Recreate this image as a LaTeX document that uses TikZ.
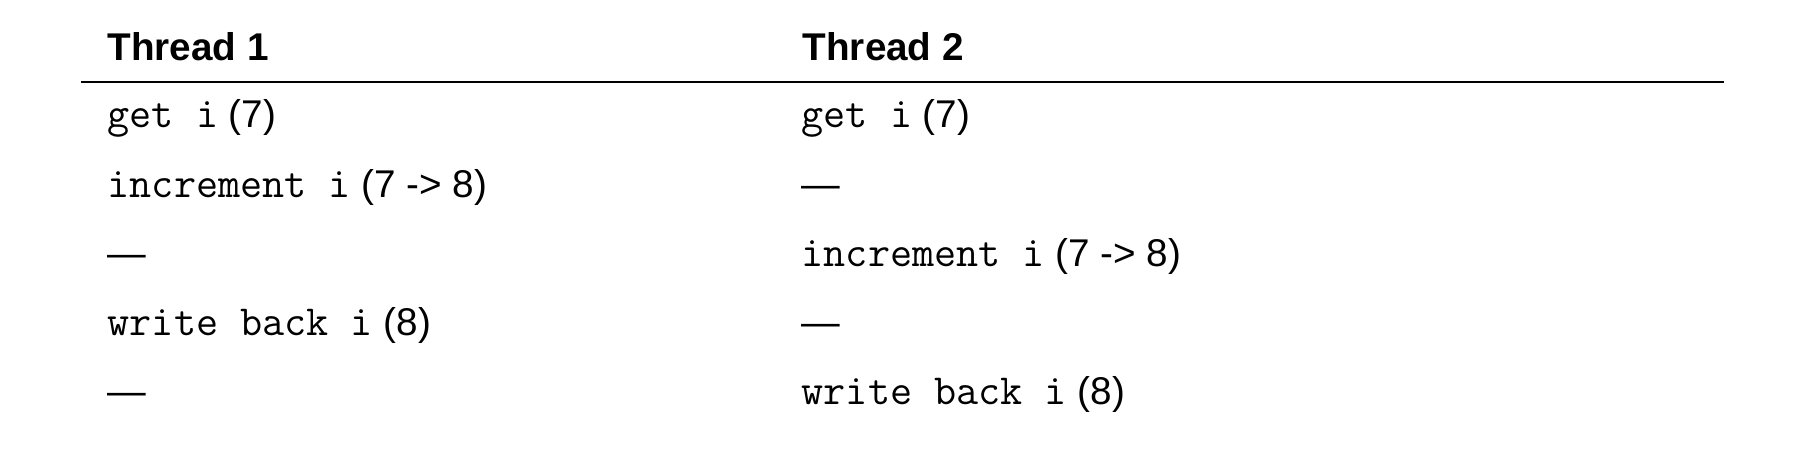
\documentclass[tikz,border=0pt]{standalone}
\usepackage{fontspec}
\setmainfont{Liberation Sans}
\setmonofont{Latin Modern Mono}[Scale=1.11]
\begin{document}
\begin{tikzpicture}[x=1mm,y=-1mm,
    head/.style={anchor=base west,inner sep=0pt,font=\fontsize{11}{13}\selectfont\bfseries},
    cell/.style={anchor=base west,inner sep=0pt,font=\fontsize{11}{13}\selectfont}]
  \useasboundingbox (0,0) rectangle (182,46);
  \draw
    (10.7,6.1) node[head] (h1) {Thread 1}
    (80.2,6.1) node[head] (h2) {Thread 2};
  \coordinate (ruleL) at (8.1,8.23);
  \coordinate (ruleR) at (172.4,8.23);
  \draw[line width=0.6pt] (ruleL) -- (ruleR);
  % thread 1
  \draw
    (10.7,12.8) node[cell] (a1) {\texttt{get i} (7)}
    (10.7,19.8) node[cell] (a2) {\texttt{increment i} (7 -> 8)}
    (10.7,26.7) node[cell] (a3) {\textemdash}
    (10.7,33.6) node[cell] (a4) {\texttt{write back i} (8)}
    (10.7,40.5) node[cell] (a5) {\textemdash};
  % thread 2
  \draw
    (80.1,12.8) node[cell] (b1) {\texttt{get i} (7)}
    (80.1,19.8) node[cell] (b2) {\textemdash}
    (80.1,26.7) node[cell] (b3) {\texttt{increment i} (7 -> 8)}
    (80.1,33.6) node[cell] (b4) {\textemdash}
    (80.1,40.5) node[cell] (b5) {\texttt{write back i} (8)};
\end{tikzpicture}
\end{document}
